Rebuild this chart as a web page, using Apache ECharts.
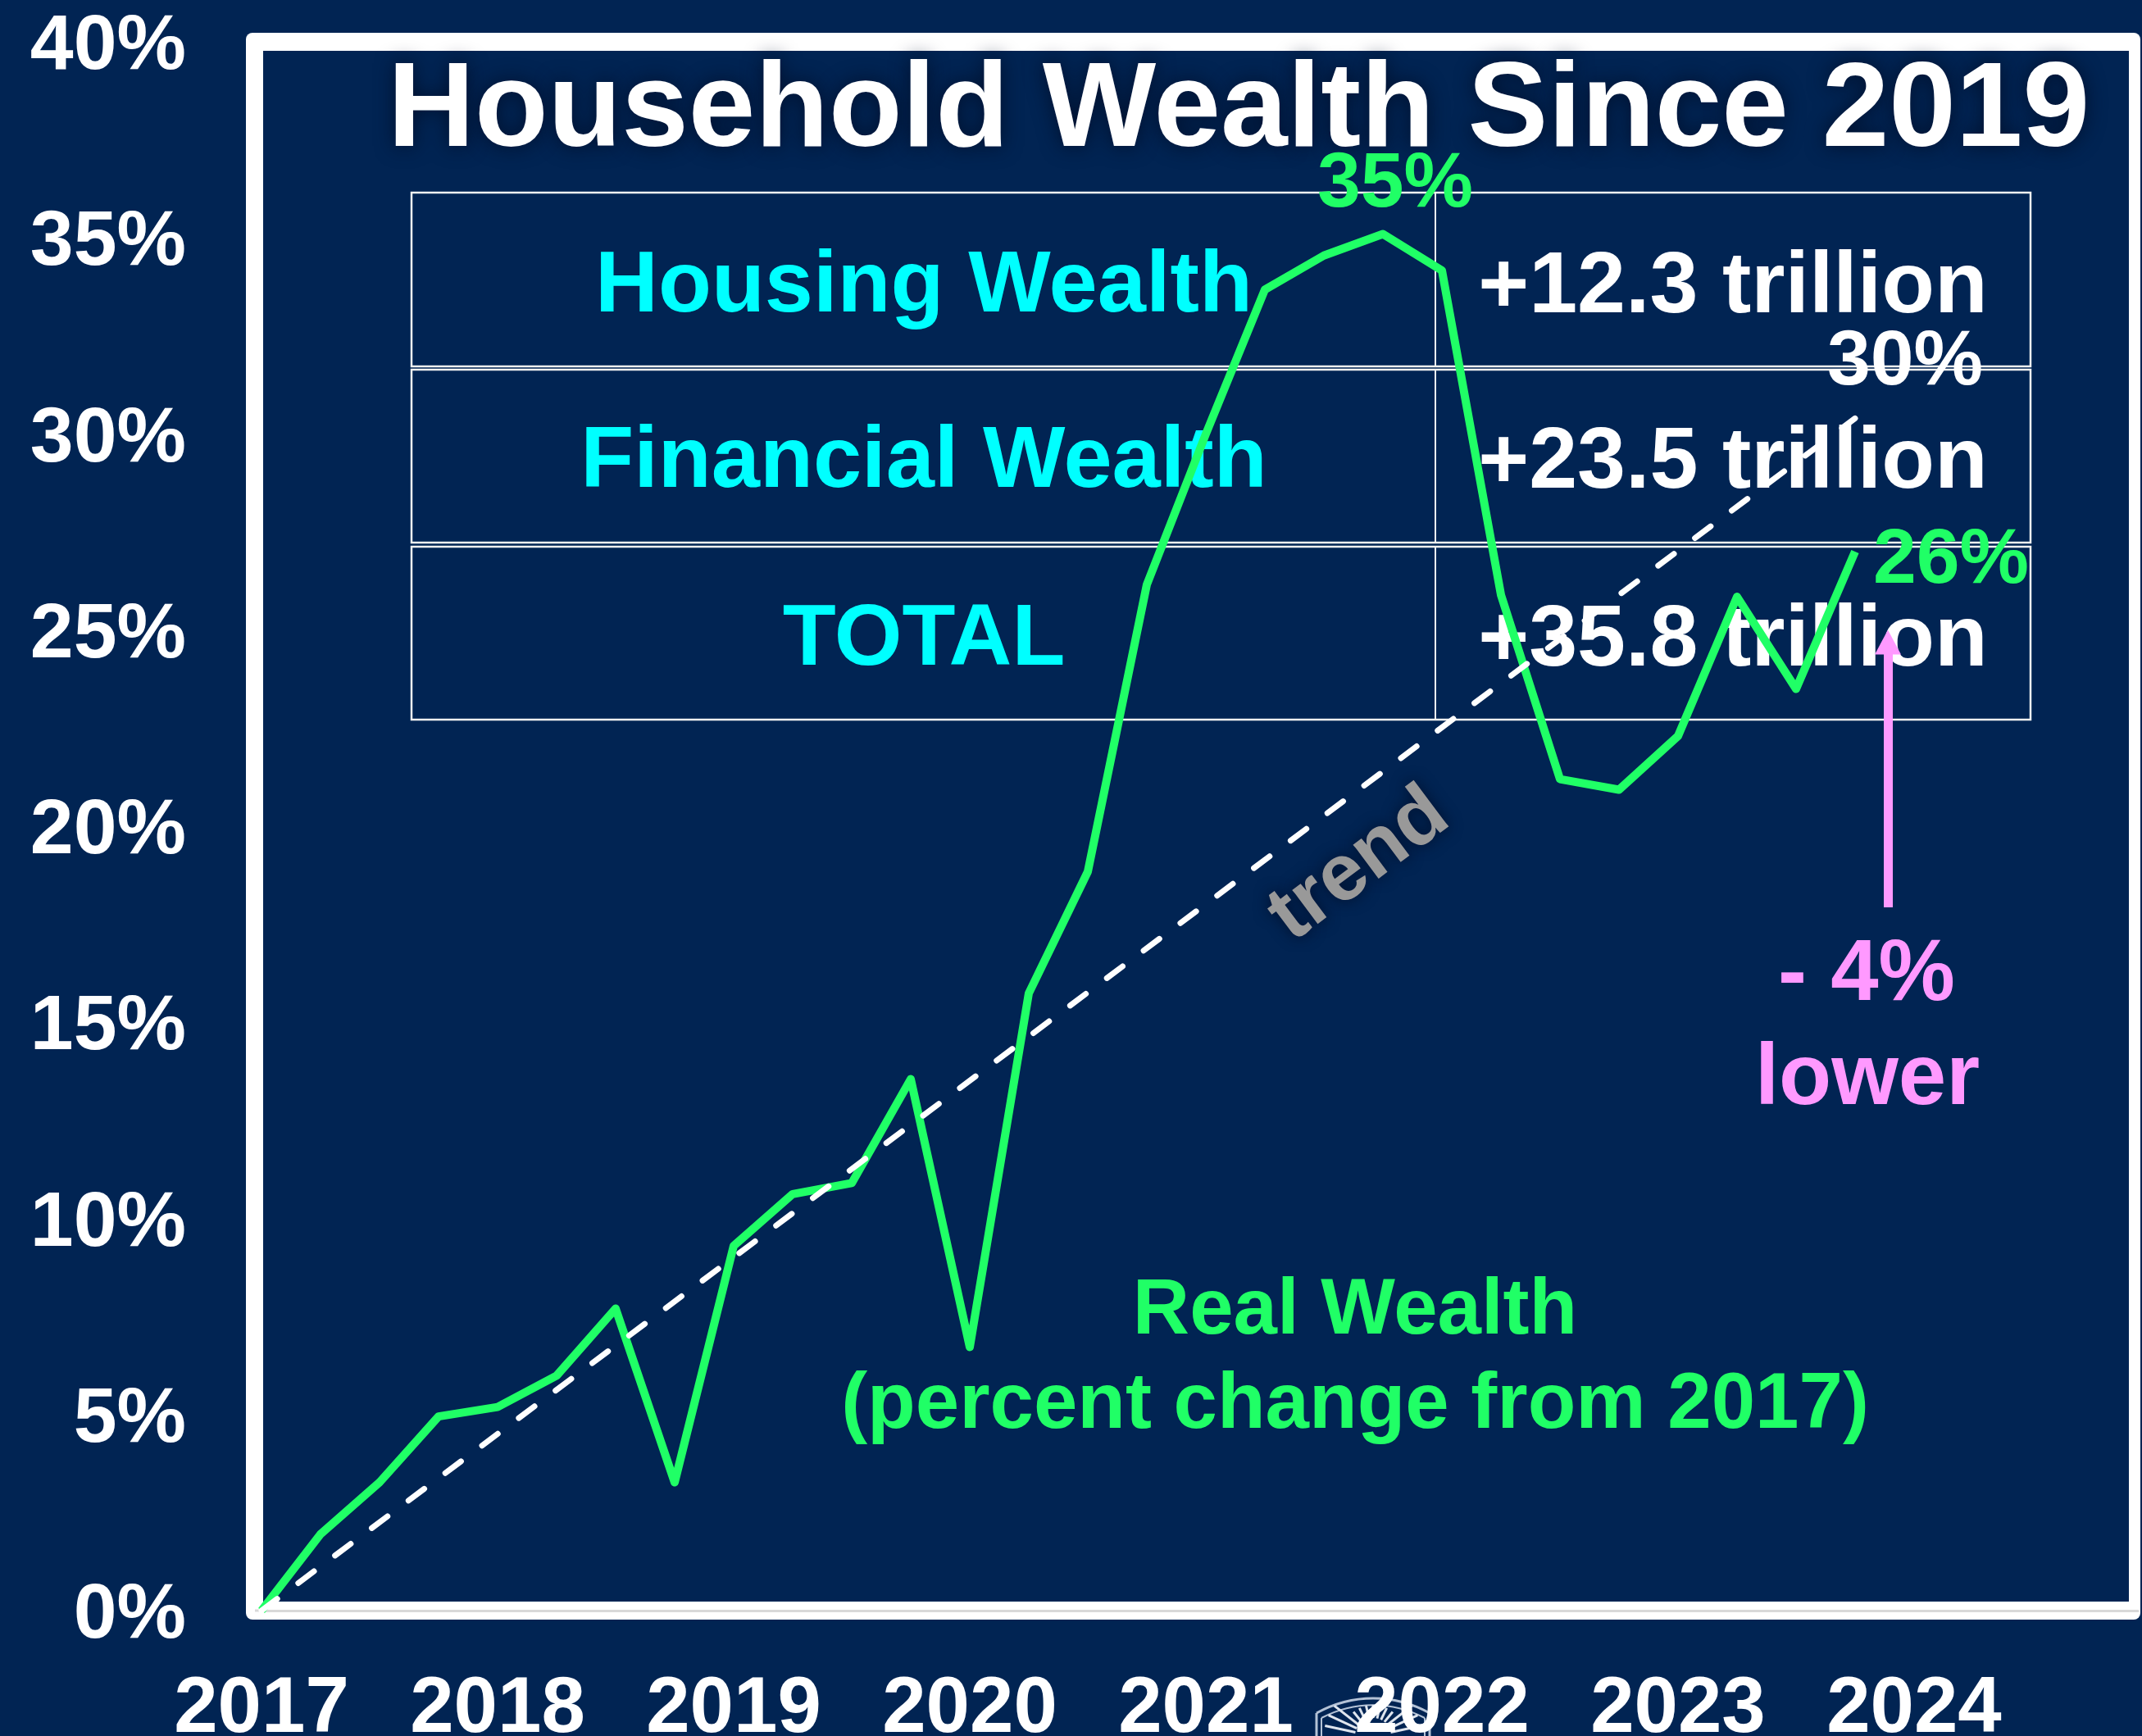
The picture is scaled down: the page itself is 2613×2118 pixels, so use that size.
<!DOCTYPE html>
<html><head><meta charset="utf-8"><style>html,body{margin:0;padding:0;background:#012453}#c{width:2613px;height:2118px}</style>
<script src="https://cdn.jsdelivr.net/npm/echarts@6/dist/echarts.min.js"></script></head>
<body><div id="c"></div><script>
const years=[2017,2018,2019,2020,2021,2022,2023,2024];
const yTicks=[0,5,10,15,20,25,30,35,40];
const quarters=[2017,2017.25,2017.5,2017.75,2018,2018.25,2018.5,2018.75,2019,2019.25,2019.5,2019.75,2020,2020.25,2020.5,2020.75,2021,2021.25,2021.5,2021.75,2022,2022.25,2022.5,2022.75,2023,2023.25,2023.5,2023.75];
const realWealth=[0,1.95,3.27,4.95,5.19,5.99,7.7,3.27,9.3,10.62,10.9,13.55,6.72,15.74,18.84,26.16,30.0,33.68,34.55,35.1,34.17,25.9,21.2,20.93,22.3,25.85,23.5,27.0];
const trendX=[2017,2023.75];
const trendY=[0,30.4];
const peak=[2021.75,35.1], last=[2023.75,27.0], trendEnd=[2023.75,30.4];
const arrowX=2023.889, arrowFrom=17.93, arrowTo=24.69;
const rows=[["Housing Wealth","+12.3 trillion"],["Financial Wealth","+23.5 trillion"],["TOTAL","+35.8 trillion"]];
const BG='#012453',GREEN='#20FF66',CY='#00FFFF',PINK='#FF99FF',F='"Liberation Sans",Arial,sans-serif';
const rowTop=[235,451,667],rowBot=[447,662,878],base=[381,595,812];
const T=(x,y,text,size,fill,extra)=>({type:'text',x,y:y-0.3465*size+7,silent:true,z:1,style:Object.assign({text,fill,font:`bold ${size}px ${F}`,align:'center',verticalAlign:'middle'},extra||{})});
const LOGO='#b4c2d6';
const g=[
 {type:'rect',z:0,shape:{x:300,y:40,width:2311,height:1936,r:8},style:{fill:'#fff'}},
 {type:'rect',z:0,shape:{x:321,y:62,width:2276,height:1892},style:{fill:BG}},
 {type:'line',z:0,shape:{x1:311,y1:1965,x2:320,y2:1965},style:{stroke:'#d9d9d9',lineWidth:3}},
 {type:'bezierCurve',z:0,shape:{x1:1606,y1:2090,cpx1:1650,cpy1:2066,cpx2:1700,cpy2:2066,x2:1744,y2:2090},style:{stroke:LOGO,lineWidth:3,fill:null}},
 {type:'bezierCurve',z:0,shape:{x1:1612,y1:2096,cpx1:1652,cpy1:2075,cpx2:1698,cpy2:2075,x2:1738,y2:2096},style:{stroke:LOGO,lineWidth:2,fill:null}},
 {type:'line',z:0,shape:{x1:1606,y1:2090,x2:1606,y2:2118},style:{stroke:LOGO,lineWidth:3}},
 {type:'line',z:0,shape:{x1:1744,y1:2090,x2:1744,y2:2118},style:{stroke:LOGO,lineWidth:3}},
 {type:'line',z:0,shape:{x1:1612,y1:2096,x2:1612,y2:2118},style:{stroke:LOGO,lineWidth:2}},
 {type:'line',z:0,shape:{x1:1738,y1:2096,x2:1738,y2:2118},style:{stroke:LOGO,lineWidth:2}}
];
for(let a=-78;a<=78;a+=13){const r=a*Math.PI/180,s=Math.sin(r),c=Math.cos(r);
 g.push({type:'line',z:0,shape:{x1:1675+s*22,y1:2118-c*22,x2:1675+s*(Math.abs(a)>50?60:38),y2:2118-c*(Math.abs(a)>50?60:38)},style:{stroke:'#dfe5ee',lineWidth:3}});}
rows.forEach((r,i)=>{
 g.push({type:'rect',z:0,shape:{x:502,y:rowTop[i],width:1975,height:rowBot[i]-rowTop[i]},style:{fill:BG,stroke:'#f0f0f0',lineWidth:2.5}});
 g.push({type:'line',z:0,shape:{x1:1751,y1:rowTop[i],x2:1751,y2:rowBot[i]},style:{stroke:'#f0f0f0',lineWidth:2}});
 g.push(T(1127,base[i],r[0],106.4,CY));
 g.push(T(2114,base[i],r[1],106,'#fff'));
});
g.push(T(1511,181,'Household Wealth Since 2019',146.7,'#fff',{textShadowColor:'#00102c',textShadowBlur:24}));
g.push(T(1653,1627,'Real Wealth',96,GREEN));
g.push(T(1653,1742,'(percent change from 2017)',96,GREEN));
g.push(T(2277,1220,'- 4%',105,PINK));
g.push(T(2278,1347,'lower',105,PINK));
g.push({type:'text',x:1658,y:1056,rotation:0.64,silent:true,z:1,style:{text:'trend',fill:'#999999',font:`bold 98px ${F}`,align:'center',verticalAlign:'middle',textShadowColor:'#00102c',textShadowBlur:18}});
const lab=(c,text,color,dx,dy)=>({coord:c,symbol:'circle',symbolSize:1,itemStyle:{color:'rgba(0,0,0,0)'},label:{show:true,formatter:text,color,fontFamily:F,fontWeight:'bold',fontSize:95,position:'inside',offset:[dx,dy]}});
const chart=echarts.init(document.getElementById('c'),null,{renderer:'canvas'});
chart.setOption({
 animation:false,backgroundColor:BG,graphic:{elements:g},
 grid:{left:319,right:5,top:51,bottom:153,outerBoundsMode:'none'},
 xAxis:{type:'value',min:2017,max:2024.948,interval:1,splitLine:{show:false},axisTick:{show:false},
  axisLine:{show:true,lineStyle:{color:'#d9d9d9',width:3}},
  axisLabel:{showMaxLabel:false,margin:74,formatter:v=>String(v),color:'#fff',fontFamily:F,fontWeight:'bold',fontSize:96,lineHeight:96}},
 yAxis:{type:'value',min:0,max:40,interval:5,splitLine:{show:false},axisTick:{show:false},axisLine:{show:false},
  axisLabel:{margin:92,formatter:'{value}%',color:'#fff',fontFamily:F,fontWeight:'bold',fontSize:95,verticalAlign:'top',lineHeight:14}},
 series:[
  {name:'Real Wealth',type:'line',z:4,symbol:'none',silent:true,data:quarters.map((x,i)=>[x,realWealth[i]]),lineStyle:{color:GREEN,width:10,join:'round'},
   markPoint:{silent:true,z:6,data:[lab(peak,'35%',GREEN,15,-60),lab(last,'26%',GREEN,117,12)]},
   markLine:{silent:true,z:5,symbol:['none','triangle'],symbolSize:[32,30],label:{show:false},lineStyle:{color:PINK,width:11,type:'solid'},data:[[{coord:[arrowX,arrowFrom]},{coord:[arrowX,arrowTo]}]]}},
  {name:'Trend',type:'line',z:5,symbol:'none',silent:true,data:trendX.map((x,i)=>[x,trendY[i]]),lineStyle:{color:'#fff',width:7,type:[24,32],cap:'round'},
   markPoint:{silent:true,data:[lab(trendEnd,'30%','#fff',61,-68)]}}
 ]
});
</script></body></html>
